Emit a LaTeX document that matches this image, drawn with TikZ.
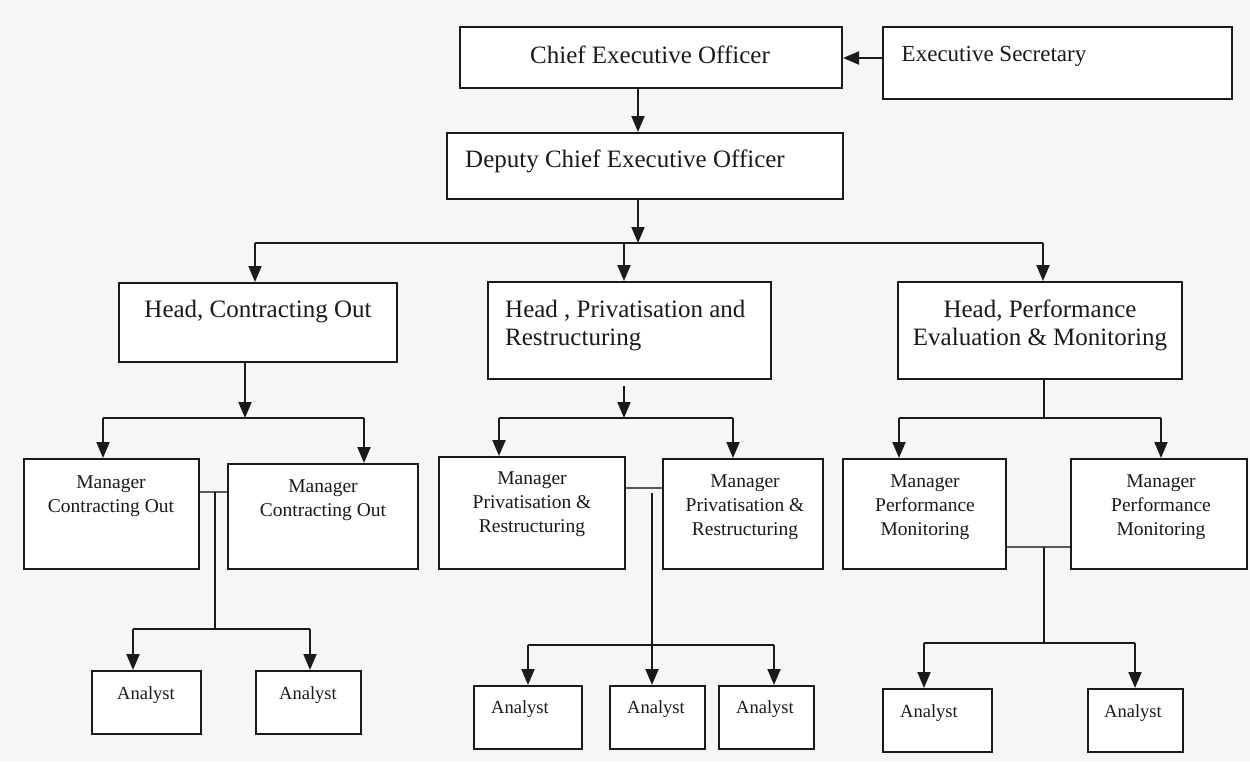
\documentclass[tikz,border=0pt]{standalone}
\usepackage{fontspec}
\setmainfont{Liberation Serif}
\usetikzlibrary{arrows.meta,calc}
\definecolor{bg}{HTML}{F6F6F6}
\definecolor{ink}{HTML}{1A1A1A}
\begin{document}
\begin{tikzpicture}[x=1pt,y=-1pt,
  box/.style={draw=ink, line width=2pt, fill=white, inner sep=0pt},
  big/.style={font=\fontsize{25}{28}\selectfont, inner sep=0pt, text=ink},
  mid/.style={font=\fontsize{19.5}{24}\selectfont, inner sep=0pt, align=center, text=ink},
  small/.style={font=\fontsize{18.5}{22}\selectfont, inner sep=0pt, text=ink},
  arr/.style={draw=ink, line width=2pt, -{Triangle[length=16pt,width=13pt]}},
  conn/.style={draw=ink, line width=2pt},
  thinconn/.style={draw=black!65, line width=1.2pt}]
\fill[bg] (0,0) rectangle (1250,761);
\useasboundingbox (0,0) rectangle (1250,761);

% boxes
\node[box, minimum width=382pt, minimum height=61pt] (ceo) at (651,57.5) {};
\node[box, minimum width=349pt, minimum height=72pt] (sec) at (1057.5,63) {};
\node[box, minimum width=396pt, minimum height=66pt] (dceo) at (645,166) {};
\node[box, minimum width=278pt, minimum height=79pt] (hco) at (258,322.5) {};
\node[box, minimum width=283pt, minimum height=97pt] (hpr) at (629.5,330.5) {};
\node[box, minimum width=284pt, minimum height=97pt] (hpe) at (1040,330.5) {};
\node[box, minimum width=175pt, minimum height=110pt] (mco1) at (111.5,514) {};
\node[box, minimum width=190pt, minimum height=105pt] (mco2) at (323,516.5) {};
\node[box, minimum width=186pt, minimum height=112pt] (mpr1) at (532,513) {};
\node[box, minimum width=160pt, minimum height=110pt] (mpr2) at (743,514) {};
\node[box, minimum width=163pt, minimum height=110pt] (mpm1) at (924.5,514) {};
\node[box, minimum width=176pt, minimum height=110pt] (mpm2) at (1159,514) {};
\node[box, minimum width=109pt, minimum height=63pt] (a1) at (146.5,702.5) {};
\node[box, minimum width=105pt, minimum height=63pt] (a2) at (308.5,702.5) {};
\node[box, minimum width=108pt, minimum height=63pt] (a3) at (528,717.5) {};
\node[box, minimum width=95pt, minimum height=63pt] (a4) at (657.5,717.5) {};
\node[box, minimum width=95pt, minimum height=63pt] (a5) at (766.5,717.5) {};
\node[box, minimum width=109pt, minimum height=63pt] (a6) at (937.5,720.5) {};
\node[box, minimum width=95pt, minimum height=63pt] (a7) at (1135.5,720.5) {};

% texts (multi-line: base anchor = last line baseline)
\node[big, anchor=base] (ceo-t) at (650,63) {Chief Executive Officer};
\node[big, font=\fontsize{23}{26}\selectfont, anchor=base] (sec-t) at (994,61) {Executive Secretary};
\node[big, anchor=base west] (dceo-t) at (465,167) {Deputy Chief Executive Officer};
\node[big, anchor=base] (hco-t) at (258,317) {Head, Contracting Out};
\node[big, align=left, anchor=base west] (hpr-t) at (505,345) {Head , Privatisation and\\Restructuring};
\node[big, align=center, anchor=base] (hpe-t) at (1040,345) {Head, Performance\\Evaluation \& Monitoring};
\node[mid, anchor=base] (mco1-t) at (111,512) {Manager\\Contracting Out};
\node[mid, anchor=base] (mco2-t) at (323,516) {Manager\\Contracting Out};
\node[mid, anchor=base] (mpr1-t) at (532,532) {Manager\\Privatisation \&\\Restructuring};
\node[mid, anchor=base] (mpr2-t) at (745,535) {Manager\\Privatisation \&\\Restructuring};
\node[mid, anchor=base] (mpm1-t) at (925,535) {Manager\\Performance\\Monitoring};
\node[mid, anchor=base] (mpm2-t) at (1161,535) {Manager\\Performance\\Monitoring};
\node[small, anchor=base] (a1-t) at (146,699) {Analyst};
\node[small, anchor=base] (a2-t) at (308,699) {Analyst};
\node[small, anchor=base] (a3-t) at (520,713) {Analyst};
\node[small, anchor=base] (a4-t) at (656,713) {Analyst};
\node[small, anchor=base] (a5-t) at (765,713) {Analyst};
\node[small, anchor=base] (a6-t) at (929,717) {Analyst};
\node[small, anchor=base] (a7-t) at (1133,717) {Analyst};

% top connectors
\coordinate (secy) at (0,58);
\draw[arr] (sec.west |- secy) -- (ceo.east |- secy);
\coordinate (cx) at (638,0);
\draw[arr] (ceo.south -| cx) -- (dceo.north -| cx);
\coordinate (busL) at (255,243);
\coordinate (busR) at (1043,243);
\draw[arr] (dceo.south -| cx) -- (cx |- busL);
\draw[conn] (busL) -- (busR);
\coordinate (hprx) at (624,0);
\draw[arr] (busL) -- (busL |- hco.north);
\draw[arr] (hprx |- busL) -- (hpr.north -| hprx);
\draw[arr] (busR) -- (busR |- hpe.north);

% contracting out branch
\coordinate (b1L) at (103,418);
\coordinate (b1R) at (364,418);
\coordinate (b1x) at (245,0);
\draw[arr] (hco.south -| b1x) -- (b1x |- b1L);
\draw[conn] (b1L) -- (b1R);
\draw[arr] (b1L) -- (b1L |- mco1.north);
\draw[arr] (b1R) -- (b1R |- mco2.north);
\coordinate (c1y) at (0,492);
\draw[thinconn] (mco1.east |- c1y) -- (mco2.west |- c1y);
\coordinate (c1x) at (215,492);
\coordinate (d1L) at (133,629);
\coordinate (d1R) at (310,629);
\draw[conn] (c1x) -- (c1x |- d1L);
\draw[conn] (d1L) -- (d1R);
\draw[arr] (d1L) -- (d1L |- a1.north);
\draw[arr] (d1R) -- (d1R |- a2.north);

% privatisation branch
\coordinate (b2L) at (499,418);
\coordinate (b2R) at (733,418);
\draw[arr] ($(hpr.south -| hprx)+(0,6)$) -- (hprx |- b2L);
\draw[conn] (b2L) -- (b2R);
\draw[arr] (b2L) -- (b2L |- mpr1.north);
\draw[arr] (b2R) -- (b2R |- mpr2.north);
\coordinate (c2y) at (0,488);
\draw[thinconn] (mpr1.east |- c2y) -- (mpr2.west |- c2y);
\coordinate (c2x) at (652,493);
\coordinate (d2L) at (528,645);
\coordinate (d2R) at (774,645);
\draw[arr] (c2x) -- (c2x |- a4.north);
\draw[conn] (d2L) -- (d2R);
\draw[arr] (d2L) -- (d2L |- a3.north);
\draw[arr] (d2R) -- (d2R |- a5.north);

% performance branch
\coordinate (b3L) at (899,418);
\coordinate (b3R) at (1161,418);
\coordinate (b3x) at (1044,0);
\draw[conn] (hpe.south -| b3x) -- (b3x |- b3L);
\draw[conn] (b3L) -- (b3R);
\draw[arr] (b3L) -- (b3L |- mpm1.north);
\draw[arr] (b3R) -- (b3R |- mpm2.north);
\coordinate (c3y) at (0,547);
\draw[thinconn] (mpm1.east |- c3y) -- (mpm2.west |- c3y);
\coordinate (c3x) at (1044,547);
\coordinate (d3L) at (924,643);
\coordinate (d3R) at (1135,643);
\draw[conn] (c3x) -- (c3x |- d3L);
\draw[conn] (d3L) -- (d3R);
\draw[arr] (d3L) -- (d3L |- a6.north);
\draw[arr] (d3R) -- (d3R |- a7.north);
\end{tikzpicture}
\end{document}
